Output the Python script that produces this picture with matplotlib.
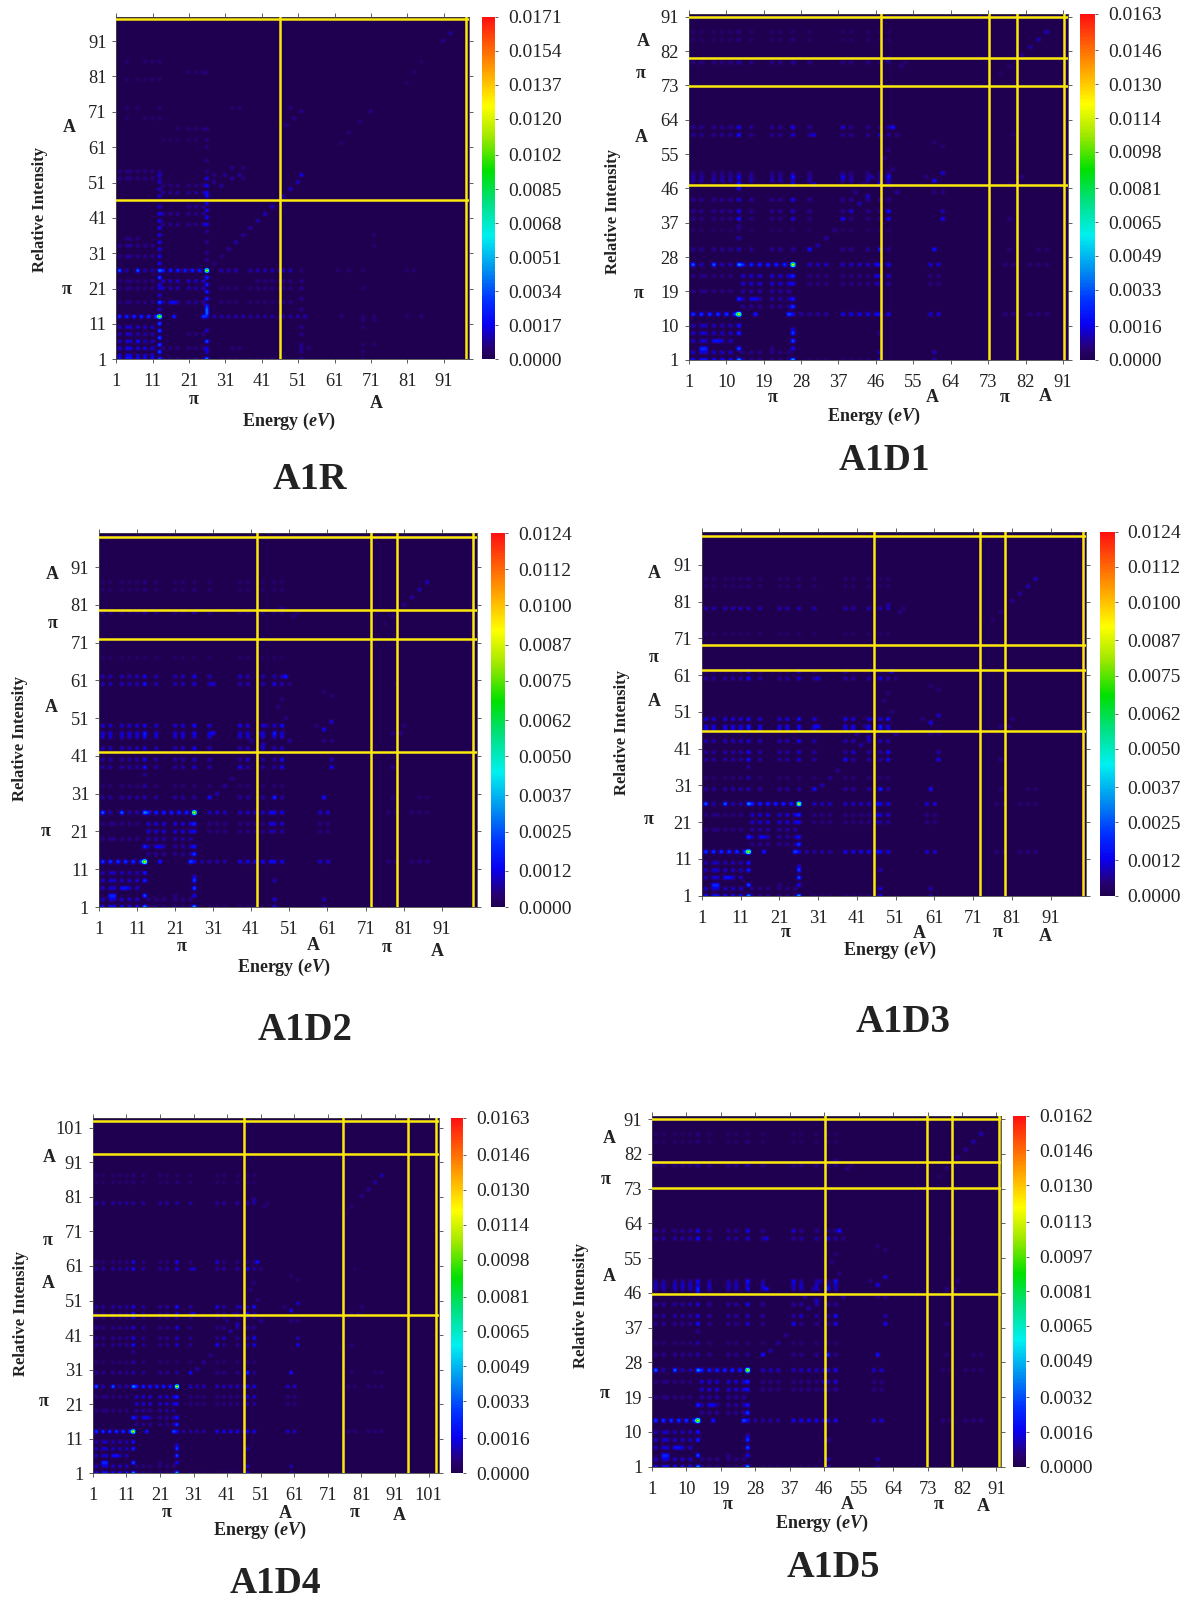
import numpy as np
import matplotlib
matplotlib.use("Agg")
import matplotlib.pyplot as plt
from matplotlib.colors import LinearSegmentedColormap

plt.rcParams['font.family'] = ['Liberation Serif', 'DejaVu Serif']
plt.rcParams['mathtext.fontset'] = 'custom'
plt.rcParams['mathtext.rm'] = 'Liberation Serif'
plt.rcParams['mathtext.bf'] = 'Liberation Serif:bold'
plt.rcParams['mathtext.bfit'] = 'Liberation Serif:italic:bold'
plt.rcParams['mathtext.it'] = 'Liberation Serif:italic'

W, H = 1191, 1601

# column groups of the spot lattice
C_LOW = [2, 4, 5, 7, 9, 11]
C_14 = [14, 16, 18]
C_21 = [21, 23, 25]
C_MID = [30, 32, 34, 38, 40, 42, 44]
C_47 = [46, 47, 49]
C_60 = [59, 61]
C_FAR = [77, 79, 83, 85, 87]
C_UP = [2, 4, 7, 9, 11, 13, 16, 21, 23, 26, 30, 38, 40, 44, 47, 49]

# (row, columns, level as a fraction of the colour bar)
A1R_ROWS = [
    (1, C_LOW, .13), (1, C_14 + C_21, .05), (1, C_MID, .035), (2, C_LOW, .1),
    (4, C_LOW, .11), (4, C_14 + C_21, .05), (4, [33, 35], .05), (4, [52, 54], .05),
    (6, C_LOW, .09), (6, [7], .14), (8, C_LOW, .08), (8, C_21, .05), (10, C_LOW, .09),
    (13, [2, 4, 6, 8, 10, 12], .17), (13, [17], .16), (13, [25], .18), (13, [26], .15),
    (13, [28, 30, 32, 34, 36], .08), (13, [38, 40, 42, 44], .07), (13, C_47, .07),
    (13, [51, 53], .08), (13, [63, 69, 72, 81, 85], .04),
    (17, C_LOW, .05), (17, C_14 + C_21, .07), (17, [16, 17], .12), (17, C_MID, .04), (17, C_47, .05),
    (21, C_14 + C_21, .08), (21, C_MID, .045), (21, C_47, .05), (21, C_LOW, .05),
    (23, C_14 + C_21, .09), (23, C_LOW, .05), (23, [40, 42, 44], .05), (23, C_47, .05),
    (26, [2, 7], .22), (26, [4, 9, 11], .08), (26, [13], .24),
    (26, [14, 16, 18, 20, 22, 24], .16), (26, [26], .7), (26, C_MID, .08),
    (26, C_47, .09), (26, [52, 62, 65, 81, 83], .04),
    (30, C_LOW, .06), (33, C_LOW, .06), (35, [4, 5, 7], .05),
    (39, C_14 + C_21, .06), (42, C_14 + C_21, .06), (44, C_21, .06), (48, C_14 + C_21, .06), (50, C_14 + C_21, .05),
    (52, [2, 4, 5, 7, 9, 11, 13], .05), (54, [2, 4, 5, 7, 9, 11, 13], .05),
    (63, [14, 16, 18, 21, 23], .03), (66, [18, 21, 23, 25], .04),
    (69, [4, 9, 11, 13], .04), (72, [4, 7, 13, 33, 35], .04), (80, [4, 7, 9, 11, 13], .035), (85, [4, 9, 11, 13], .04),
    (82, [21, 23, 25, 26], .04),
]
A1R_COLS = [
    (13, [1, 3, 5, 7, 9, 11], .2), (13, [17, 24], .2), (13, [15, 19, 21, 22], .1),
    (13, [28, 30, 32, 34, 36, 38, 40, 42], .12), (13, [44, 47, 49, 51, 53], .09),
    (26, [1], .26), (26, [6], .2), (26, [3, 4, 9], .1), (26, [14, 15], .22),
    (26, [16, 18, 20, 22, 24], .16), (26, [29, 31, 34, 37], .06),
    (26, [39, 41, 43, 45, 47, 48, 50, 52], .12), (26, [54, 57, 61, 63, 66], .05),
    (52, [1, 3, 5, 8, 10, 15, 18, 21, 23], .06),
    (69, [1, 3, 5, 10, 12, 21, 26], .04), (72, [5, 12, 33, 36], .04),
]
A1R_SPOTS = [
    (13, 13, .7), (26, 26, .7),
    (28, 28, .05), (30, 30, .05), (32, 32, .07), (34, 34, .08), (36, 36, .07), (38, 38, .07), (40, 40, .08),
    (42, 42, .09), (44, 44, .09), (47, 47, .08), (49, 49, .1), (51, 51, .1), (52, 53, .12),
    (28, 51, .06), (30, 50, .07), (33, 52, .07), (35, 53, .07), (36, 52, .05),
    (28, 53, .05), (31, 53, .06), (33, 55, .06), (36, 55, .05),
    (63, 62, .04), (65, 65, .05), (68, 68, .05), (71, 71, .05), (81, 79, .03), (83, 82, .03), (85, 85, .03),
    (91, 91, .06), (93, 93, .07), (48, 67, .05), (50, 69, .06), (52, 71, .06), (49, 72, .05),
]

# rows shared by the five derivative panels below row 27
D_LOW_ROWS = [
    (1, C_LOW, .14), (1, [13], .28), (1, [14, 16, 18], .06), (1, [26], .3), (1, C_21, .05), (1, C_MID, .035),
    (3, C_LOW, .09), (3, C_14 + C_21, .05),
    (4, [4, 5], .16), (4, [13], .2), (4, [26], .12),
    (6, C_LOW, .09), (6, [7, 8], .13), (8, C_LOW, .09), (8, [13], .16), (8, [26], .18), (10, C_LOW, .08), (10, [13], .14),
    (13, [2, 4, 6, 8, 10, 12], .18), (13, [13], .72), (13, [17], .15), (13, [25], .2), (13, [26], .12),
    (13, [28, 30, 32, 34], .07), (13, [38, 40, 42, 44], .12), (13, C_47, .12), (13, C_60, .1), (13, C_FAR, .05),
    (15, C_14 + C_21, .06), (15, [26], .18), (17, C_14 + C_21, .07), (17, [16, 17], .11), (17, [13], .16), (17, [26], .14),
    (19, C_LOW, .05), (19, C_14 + C_21, .07), (21, C_14 + C_21, .1), (21, [26], .12), (21, C_MID, .05), (21, C_47, .07), (21, C_60, .05),
    (23, C_14 + C_21, .1), (23, [26], .16), (23, C_LOW, .05), (23, C_MID, .05), (23, C_47, .1), (23, C_60, .05),
    (26, [2, 7], .22), (26, [4, 9, 11], .08), (26, [13], .26), (26, [14, 16, 18, 20, 22, 24], .16),
    (26, [26], .72), (26, C_MID, .09), (26, C_47, .12), (26, C_60, .1), (26, C_FAR, .04),
]

# upper lattice rows: (row, level across the C_UP columns)
A1D1_UPPER = [(30, .06), (35, .03), (38, .05), (40, .06), (43, .06), (48, .07), (49, .06), (50, .05),
              (60, .06), (62, .06), (79, .05), (85, .03), (87, .03)]
A1D2_UPPER = [(30, .07), (33, .04), (38, .07), (40, .07), (43, .08), (46, .09), (47, .1), (49, .1),
              (60, .08), (62, .08), (67, .03), (79, .05), (85, .035), (87, .035)]
A1D3_UPPER = [(30, .07), (33, .04), (38, .07), (40, .07), (43, .08), (46, .1), (47, .11), (49, .1),
              (60, .07), (62, .05), (72, .03), (79, .08), (85, .035), (87, .035)]
A1D4_UPPER = [(30, .06), (33, .04), (38, .06), (40, .06), (43, .06), (46, .05), (47, .06), (49, .07),
              (60, .07), (62, .05), (79, .07), (85, .035), (87, .035)]
A1D5_UPPER = [(30, .06), (33, .04), (38, .06), (40, .07), (43, .07), (47, .08), (48, .09), (49, .06),
              (60, .07), (62, .06), (79, .05), (85, .03), (87, .03)]

# spots common to the derivative panels: (x, y, level)
D_SPOTS = [
    (13, 30, .08), (13, 33, .08), (13, 36, .06), (13, 38, .14), (13, 40, .12), (13, 43, .1), (13, 46, .12), (13, 47, .16), (13, 49, .12),
    (13, 60, .14), (13, 62, .12), (13, 79, .07), (13, 85, .05), (13, 87, .05),
    (26, 30, .07), (26, 38, .1), (26, 40, .09), (26, 43, .12), (26, 47, .12), (26, 49, .14), (26, 60, .1), (26, 62, .12), (26, 79, .07), (26, 85, .05),
    (47, 1, .12), (47, 3, .1), (47, 8, .08), (47, 30, .17), (49, 40, .14), (49, 38, .12), (47, 47, .16), (49, 49, .14), (47, 60, .12), (50, 62, .14),
    (30, 30, .14), (32, 31, .08), (34, 33, .07), (36, 35, .06), (38, 38, .13), (40, 40, .1), (42, 42, .08), (44, 44, .09), (38, 49, .12), (38, 62, .1), (31, 60, .1), (31, 47, .12),
    (60, 30, .14), (60, 3, .08), (60, 1, .07), (62, 38, .12), (62, 40, .08), (60, 48, .12), (62, 50, .1), (58, 49, .05), (62, 45, .05), (60, 45, .05), (60, 58, .04), (62, 57, .04),
    (49, 47, .07), (51, 45, .07), (45, 49, .07), (43, 47, .06), (41, 45, .06), (50, 51, .05), (49, 56, .05), (48, 54, .05), (51, 60, .05), (53, 79, .04), (49, 80, .07), (52, 78, .05),
    (78, 47, .05), (80, 47, .06), (78, 30, .04), (78, 38, .05), (81, 49, .05), (79, 60, .03), (85, 30, .04), (87, 30, .04),
    (76, 76, .03), (78, 78, .04), (81, 81, .06), (83, 83, .07), (85, 85, .08), (87, 87, .09),
    (26, 4, .1), (26, 6, .2), (26, 9, .1), (21, 4, .05),
]

A1R_VMAX = 0.0171
A1D1_VMAX = 0.0163
A1D2_VMAX = 0.0124
A1D3_VMAX = 0.0124
A1D4_VMAX = 0.0163
A1D5_VMAX = 0.0162

A1R_CB = ['0.0000', '0.0017', '0.0034', '0.0051', '0.0068', '0.0085', '0.0102', '0.0120', '0.0137', '0.0154', '0.0171']
A1D1_CB = ['0.0000', '0.0016', '0.0033', '0.0049', '0.0065', '0.0081', '0.0098', '0.0114', '0.0130', '0.0146', '0.0163']
A1D2_CB = ['0.0000', '0.0012', '0.0025', '0.0037', '0.0050', '0.0062', '0.0075', '0.0087', '0.0100', '0.0112', '0.0124']
A1D3_CB = list(A1D2_CB)
A1D4_CB = list(A1D1_CB)
A1D5_CB = ['0.0000', '0.0016', '0.0032', '0.0049', '0.0065', '0.0081', '0.0097', '0.0113', '0.0130', '0.0146', '0.0162']

T_10 = [1, 11, 21, 31, 41, 51, 61, 71, 81, 91]
T_9 = [1, 10, 19, 28, 37, 46, 55, 64, 73, 82, 91]
T_101 = [1, 11, 21, 31, 41, 51, 61, 71, 81, 91, 101]

PANELS = [
    dict(name='A1R', n=98, rect=(116.4, 469.4, 16.7, 359.3), cb=(482, 495), xmax=98.1, ymax=97.9,
         vmax=A1R_VMAX, cbl=A1R_CB, ticks=T_10, vx=[46, 97.2], hy=[46, 97.3],
         rows=A1R_ROWS, cols=A1R_COLS, spots=A1R_SPOTS, upper=None,
         title=(309.5, 479), tfs=27.6, xl=(289, 421), yl=(40, 210),
         notes=[('A', 69, 127), ('π', 67, 290), ('π', 194, 400), ('A', 376, 404)]),
    dict(name='A1D1', n=93, rect=(688.7, 1067.6, 14, 360), cb=(1079.9, 1095.2), xmax=92.1, ymax=91.7,
         vmax=A1D1_VMAX, cbl=A1D1_CB, ticks=T_9, vx=[47.2, 73.2, 80, 91.2], hy=[46.9, 72.9, 80.2, 91],
         rows=D_LOW_ROWS, cols=[], spots=D_SPOTS, upper=A1D1_UPPER,
         title=(884, 461), tfs=27, xl=(874, 416), yl=(613, 212),
         notes=[('A', 643.6, 41), ('π', 641, 73), ('A', 641, 137), ('π', 639, 293),
                ('π', 773, 397), ('A', 932, 398), ('π', 1005, 397), ('A', 1045, 396)]),
    dict(name='A1D2', n=101, rect=(98.8, 476.5, 533, 907), cb=(490.5, 505), xmax=100.1, ymax=100,
         vmax=A1D2_VMAX, cbl=A1D2_CB, ticks=T_10, vx=[42.5, 72.4, 79.2, 99.1], hy=[42, 71.9, 79.6, 99],
         rows=D_LOW_ROWS, cols=[], spots=D_SPOTS, upper=A1D2_UPPER,
         title=(305, 1030), tfs=28, xl=(284, 967), yl=(20, 738),
         notes=[('A', 52, 574), ('π', 53, 623), ('A', 51, 707), ('π', 46, 831),
                ('π', 182, 946), ('A', 313, 945), ('π', 387, 947), ('A', 437, 951)]),
    dict(name='A1D3', n=101, rect=(701.8, 1085.5, 531.7, 895.7), cb=(1099.8, 1114.5), xmax=100, ymax=100,
         vmax=A1D3_VMAX, cbl=A1D3_CB, ticks=T_10, vx=[45.4, 72.9, 79.2, 99.3], hy=[45.8, 62.5, 69.2, 98.9],
         rows=D_LOW_ROWS, cols=[], spots=D_SPOTS, upper=A1D3_UPPER,
         title=(903.5, 1023), tfs=28, xl=(890, 950), yl=(622, 732),
         notes=[('A', 654, 573), ('π', 654, 657), ('A', 654, 701), ('π', 649, 819),
                ('π', 786, 932), ('A', 919, 933), ('π', 998, 932), ('A', 1045.5, 936)]),
    dict(name='A1D4', n=105, rect=(92.9, 438.6, 1117.7, 1473.3), cb=(451, 463), xmax=104, ymax=103.9,
         vmax=A1D4_VMAX, cbl=A1D4_CB, ticks=T_101, vx=[45.9, 75.6, 94.8, 103.1], hy=[46.8, 93.4, 102.9],
         rows=D_LOW_ROWS, cols=[], spots=D_SPOTS, upper=A1D4_UPPER,
         title=(275, 1583), tfs=27, xl=(260, 1530), yl=(21, 1313),
         notes=[('A', 49, 1157), ('π', 47.5, 1240), ('A', 48, 1283), ('π', 43.6, 1401),
                ('π', 167, 1512), ('A', 285, 1513), ('π', 355, 1512), ('A', 399, 1515)]),
    dict(name='A1D5', n=93, rect=(652, 1001, 1115.7, 1466.7), cb=(1012.9, 1026.4), xmax=92.2, ymax=91.9,
         vmax=A1D5_VMAX, cbl=A1D5_CB, ticks=T_9, vx=[46.2, 72.9, 79.3, 91.6], hy=[45.7, 73.3, 79.8, 91],
         rows=D_LOW_ROWS, cols=[], spots=D_SPOTS, upper=A1D5_UPPER,
         title=(833.5, 1567), tfs=27.5, xl=(822, 1523), yl=(581, 1305),
         notes=[('A', 609, 1138), ('π', 606, 1180), ('A', 609, 1276), ('π', 605, 1393),
                ('π', 728, 1504), ('A', 847, 1504), ('π', 939, 1504), ('A', 983, 1506)]),
]

CMAP = LinearSegmentedColormap.from_list('spectrum', [
    (0.00, '#1f0050'), (0.03, '#27006e'), (0.10, '#0a00f0'), (0.17, '#0030ff'), (0.26, '#0090f0'),
    (0.36, '#00f0f0'), (0.46, '#00e080'), (0.55, '#00e000'), (0.65, '#a0e800'), (0.74, '#ffff00'),
    (0.85, '#ff9a00'), (1.00, '#ff1010')])

LINE = '#fbe90a'
INK = '#222222'

fig = plt.figure(figsize=(W / 100, H / 100), dpi=100, facecolor='white')


def axes_px(x0, x1, y0, y1):
    return fig.add_axes([x0 / W, 1 - y1 / H, (x1 - x0) / W, (y1 - y0) / H])


def put(x, y, s, **kw):
    fig.text(x / W, 1 - y / H, s, ha='center', va='center', color=INK, **kw)


for p in PANELS:
    n = p['n']
    z = np.zeros((n, n))
    cells = []
    for row, columns, level in p['rows']:
        cells += [(c, row, level) for c in columns]
    for col, rows_, level in p['cols']:
        cells += [(col, r, level) for r in rows_]
    cells += list(p['spots'])
    if p['upper']:
        for row, level in p['upper']:
            cells += [(c, row, level) for c in C_UP]
    for x, y, level in cells:
        if x <= n and y <= n:
            z[y - 1, x - 1] = max(z[y - 1, x - 1], level * p['vmax'])

    x0, x1, y0, y1 = p['rect']
    ax = axes_px(x0, x1, y0, y1)
    im = ax.imshow(z, origin='lower', extent=(0.5, n + 0.5, 0.5, n + 0.5), aspect='auto',
                   cmap=CMAP, vmin=0, vmax=p['vmax'], interpolation='hanning')
    ax.set_xlim(1, p['xmax'])
    ax.set_ylim(1, p['ymax'])
    for v in p['vx']:
        ax.axvline(v, color=LINE, lw=1.8, zorder=3)
    for h in p['hy']:
        ax.axhline(h, color=LINE, lw=1.8, zorder=3)
    ax.set_xticks(p['ticks'], [str(t) for t in p['ticks']])
    ax.set_yticks(p['ticks'], [str(t) for t in p['ticks']])
    ax.tick_params(axis='both', length=3, width=0.6, color='#444444', labelsize=13.2,
                   labelcolor=INK, top=True, right=True, direction='out')
    ax.tick_params(axis='x', pad=7)
    ax.tick_params(axis='y', pad=4)
    for s in ax.spines.values():
        s.set_linewidth(0.6)
        s.set_color('#444444')

    cax = axes_px(p['cb'][0], p['cb'][1], y0, y1)
    cb = fig.colorbar(im, cax=cax)
    labels = p['cbl']
    cb.set_ticks([float(t) for t in labels], labels=labels)
    cb.outline.set_visible(False)
    cax.tick_params(length=2.5, width=0.6, color='#444444', labelsize=14, labelcolor=INK, pad=7)

    put(p['title'][0], p['title'][1], p['name'], fontsize=p['tfs'], fontweight='bold')
    put(p['xl'][0], p['xl'][1], r'Energy ($\mathbfit{eV}$)', fontsize=13, fontweight='bold')
    put(p['yl'][0], p['yl'][1], 'Relative Intensity', fontsize=12, fontweight='bold', rotation=90)
    for s, nx, ny in p['notes']:
        put(nx, ny, s, fontsize=13, fontweight='bold')

fig.savefig('out.png', dpi=100, facecolor='white')
